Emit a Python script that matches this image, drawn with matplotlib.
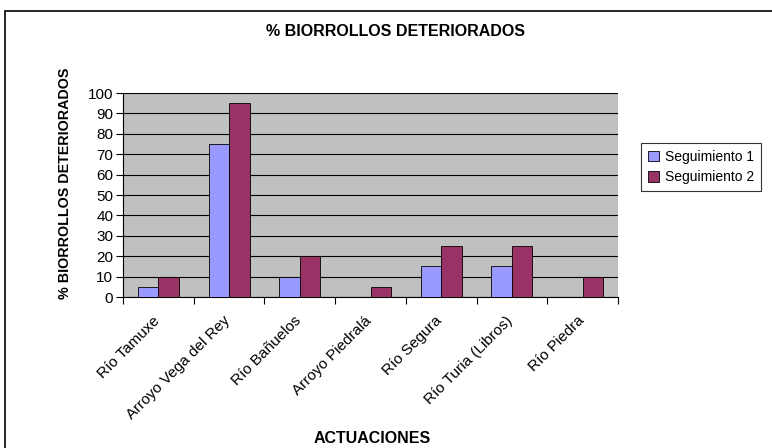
import numpy as np
import matplotlib.pyplot as plt
import matplotlib.transforms as mtransforms
from matplotlib.patches import Rectangle

plt.rcParams['font.family'] = ['Liberation Sans', 'DejaVu Sans']

# Data
actuaciones = ["Río Tamuxe", "Arroyo Vega del Rey", "Río Bañuelos", "Arroyo Piedralá",
               "Río Segura", "Río Turia (Libros)", "Río Piedra"]
seguimiento_1 = [5, 75, 10, 0, 15, 15, 0]
seguimiento_2 = [10, 95, 20, 5, 25, 25, 10]

fig = plt.figure(figsize=(7.72, 4.48), dpi=100)
W, H = 772, 448

# outer chart border
fig.patches.append(Rectangle((5 / W, -0.1), 1.2, 1 - 11 / H + 0.1, transform=fig.transFigure,
                             fill=False, edgecolor='black', linewidth=1.2))

ax = fig.add_axes([123 / W, 1 - 297 / H, (618 - 123) / W, (297 - 93) / H])
ax.set_facecolor('#C0C0C0')

x = np.arange(len(actuaciones))
w = 0.29
ax.bar(x - w / 2, seguimiento_1, w, color='#9999FF', edgecolor='black', linewidth=0.6,
       label='Seguimiento 1', zorder=3)
ax.bar(x + w / 2, seguimiento_2, w, color='#993366', edgecolor='black', linewidth=0.6,
       label='Seguimiento 2', zorder=3)

ax.set_xlim(-0.5, len(actuaciones) - 0.5)
ax.set_ylim(0, 100)
ax.set_yticks(range(0, 101, 10))
ax.yaxis.grid(True, color='black', linewidth=0.8, zorder=1)
ax.set_axisbelow(True)
ax.tick_params(axis='y', labelsize=11, length=5, direction='out', pad=2)

ax.set_xticks(np.arange(-0.5, len(actuaciones), 1), minor=False)
ax.set_xticklabels([])
ax.set_xticks(x, minor=True)
ax.set_xticklabels(actuaciones, minor=True, rotation=45, ha='right', rotation_mode='anchor',
                   fontsize=11)
ax.tick_params(axis='x', which='major', length=5, direction='out')
ax.tick_params(axis='x', which='minor', length=0, pad=12)
shift = mtransforms.ScaledTranslation(-6 / 100, 0, fig.dpi_scale_trans)
for lbl in ax.get_xticklabels(minor=True):
    lbl.set_transform(lbl.get_transform() + shift)

for s in ['top', 'right']:
    ax.spines[s].set_visible(False)
for s in ['left', 'bottom']:
    ax.spines[s].set_color('black')

fig.text(395 / W, 1 - 32 / H, '% BIORROLLOS DETERIORADOS', ha='center', va='center',
         fontsize=11.5, fontweight='bold')
fig.text(65 / W, 1 - 183 / H, '% BIORROLLOS DETERIORADOS', ha='center', va='center',
         rotation=90, fontsize=10.3, fontweight='bold')
fig.text(372 / W, 1 - 438 / H, 'ACTUACIONES', ha='center', va='center',
         fontsize=11.5, fontweight='bold')

leg = fig.legend(loc='center left', bbox_to_anchor=(634 / W, 1 - 167 / H), fontsize=10,
                 frameon=True, fancybox=False, edgecolor='black', handlelength=0.8,
                 handleheight=0.8, handletextpad=0.4, borderpad=0.5, labelspacing=0.45)
leg.get_frame().set_linewidth(0.8)

fig.savefig('out.png', dpi=100)
